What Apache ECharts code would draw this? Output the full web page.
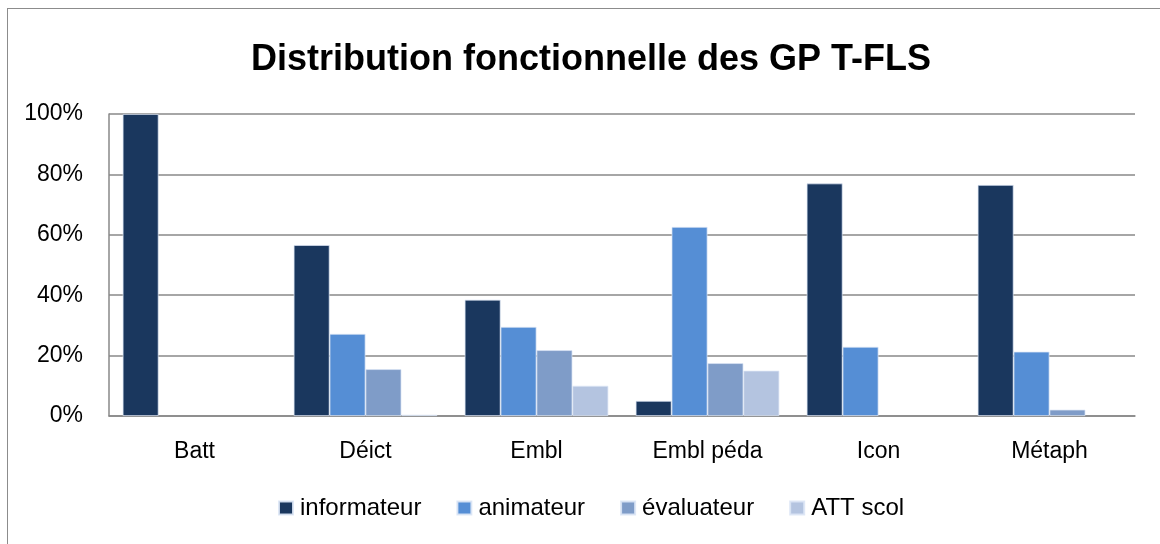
<!DOCTYPE html>
<html>
<head>
<meta charset="utf-8">
<script src="https://cdn.jsdelivr.net/npm/echarts@6/dist/echarts.min.js"></script>
<style>
  html, body { margin: 0; padding: 0; background: #fff; }
  #frame { position: absolute; left: 7px; top: 8px; width: 1160px; height: 560px; border: 1px solid #8c8c8c; box-sizing: border-box; }
  #chart { position: absolute; left: 0; top: 0; width: 1160px; height: 544px; }
</style>
</head>
<body>
<div id="frame"></div>
<div id="chart"></div>
<script>
// Functional distribution of the T-FLS gestures per category
const categories = ['Batt', 'Déict', 'Embl', 'Embl péda', 'Icon', 'Métaph'];
const informateur = [100, 56.6, 38.5, 5.0, 77.0, 76.5];
const animateur   = [0, 27.2, 29.5, 62.6, 22.9, 21.3];
const evaluateur  = [0, 15.5, 21.8, 17.5, 0, 2.1];
const attScol     = [0, 0.4, 10.0, 15.0, 0, 0];
const yTicks = [0, 20, 40, 60, 80, 100];

const seriesNames = ['informateur', 'animateur', 'évaluateur', 'ATT scol'];
const seriesData = [informateur, animateur, evaluateur, attScol];
const colors = ['#1a375e', '#558ed5', '#7f9cc8', '#b4c4e0'];
const font = 'Liberation Sans';

// empty bars get no outline so nothing is drawn over the baseline
const toItems = arr => arr.map(v => (v === 0 ? { value: v, itemStyle: { borderWidth: 0 } } : v));

const chart = echarts.init(document.getElementById('chart'));
chart.setOption({
  animation: false,
  title: {
    text: 'Distribution fonctionnelle des GP T-FLS',
    left: 246,
    top: 37,
    textStyle: { fontFamily: font, fontWeight: 'bold', fontSize: 36, color: '#000' }
  },
  legend: {
    bottom: 19,
    left: 273,
    itemWidth: 14,
    itemHeight: 13,
    itemGap: 35,
    icon: 'rect',
    textStyle: { fontFamily: font, fontSize: 24, color: '#000', padding: [0, 0, 0, 2] },
    data: seriesNames
  },
  grid: { left: 109, right: 25, top: 114, bottom: 128, containLabel: false },
  xAxis: {
    type: 'category',
    data: categories,
    axisLine: { lineStyle: { color: '#888', width: 1.5 } },
    axisTick: { show: false },
    axisLabel: { fontFamily: font, fontSize: 23, color: '#000', margin: 24 }
  },
  yAxis: {
    type: 'value',
    min: 0,
    max: 100,
    interval: 20,
    axisLine: { show: true, lineStyle: { color: '#888', width: 1.5 } },
    axisTick: { show: false },
    splitLine: { lineStyle: { color: '#888', width: 1.5 } },
    axisLabel: {
      fontFamily: font, fontSize: 23, color: '#000', margin: 26,
      formatter: v => (yTicks.includes(v) ? v + '%' : '')
    }
  },
  series: seriesNames.map((name, i) => ({
    name,
    type: 'bar',
    data: toItems(seriesData[i]),
    barGap: '0%',
    barCategoryGap: '16%',
    itemStyle: { color: colors[i], borderColor: 'rgba(220,230,245,0.9)', borderWidth: 0.8 }
  }))
});
</script>
</body>
</html>
